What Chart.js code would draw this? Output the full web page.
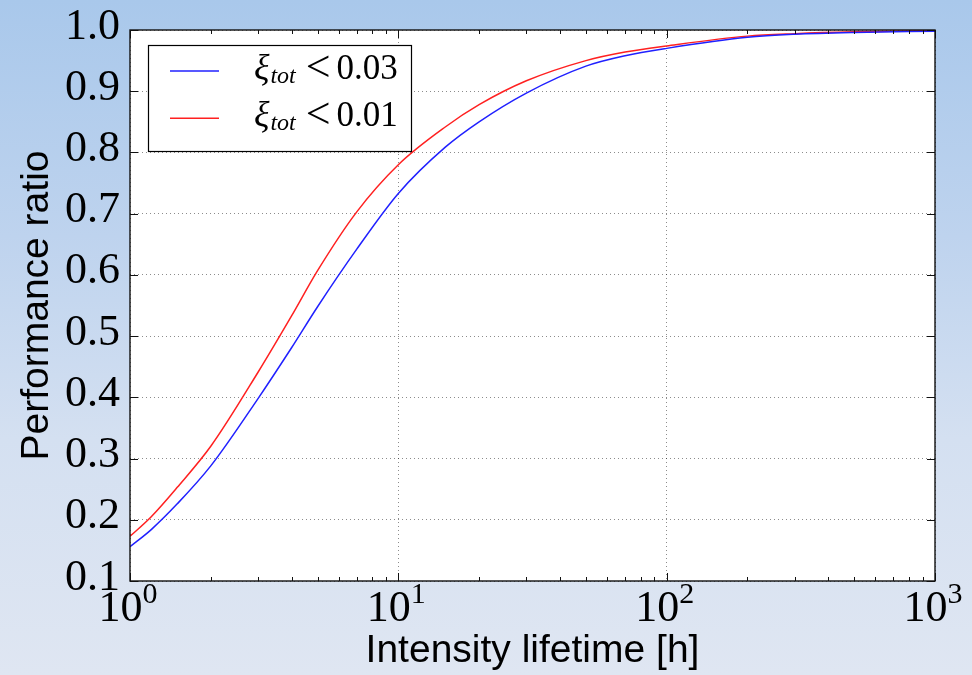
<!DOCTYPE html>
<html>
<head>
<meta charset="utf-8">
<script src="https://cdn.jsdelivr.net/npm/chart.js@4.4.0/dist/chart.umd.min.js"></script>
<style>
    html, body { margin: 0; padding: 0; }
    body {
        width: 972px;
        height: 675px;
        overflow: hidden;
        background: linear-gradient(to bottom, #a9c8eb 0%, #bed3ee 35%, #d4e0f1 65%, #dfe6f2 100%);
    }
    canvas { display: block; }
</style>
</head>
<body>
<canvas id="performance_chart" width="972" height="675"></canvas>
<script>
// intensity lifetime [h]
const lifetimes = [1, 1.2, 1.5, 2, 3, 4, 5, 7, 10, 15, 20, 30, 50, 70, 100, 200, 300, 500, 1000]
// performance ratio for each tune-shift limit
const ratio_xi_003 = [0.156, 0.184, 0.226, 0.288, 0.398, 0.481, 0.548, 0.642, 0.733, 0.809, 0.850, 0.897, 0.941, 0.958, 0.970, 0.988, 0.993, 0.996, 0.998]
const ratio_xi_001 = [0.173, 0.205, 0.253, 0.320, 0.441, 0.533, 0.607, 0.703, 0.780, 0.842, 0.878, 0.917, 0.950, 0.964, 0.974, 0.990, 0.994, 0.997, 0.999]
const series_labels = ['ξ_tot < 0.03', 'ξ_tot < 0.01']
const series_colors = ['#2020ff', '#ff2020']
const decades = [1, 10, 100, 1000]

const SERIF = "'Liberation Serif', 'DejaVu Serif', serif"
const SANS = "'Liberation Sans', Arial, sans-serif"
const GRID_COLOR = 'rgba(0, 0, 0, 0.45)'

const isDecade = v => decades.some(d => Math.abs(v - d) < 1e-6 * d)

// white plotting area
const plotBackgroundPlugin = {
    id: 'plotBackground',
    beforeDraw(chart) {
        const { ctx, chartArea: a } = chart
        ctx.save()
        ctx.fillStyle = '#fff'
        ctx.fillRect(a.left, a.top, a.right - a.left, a.bottom - a.top)
        ctx.restore()
    }
}

// frame, inward tick marks and 10^n tick labels
const axesFramePlugin = {
    id: 'axesFrame',
    afterDatasetsDraw(chart) {
        const ctx = chart.ctx
        const area = chart.chartArea
        const xs = chart.scales.x
        const ys = chart.scales.y
        ctx.save()
        ctx.strokeStyle = '#111'
        ctx.lineWidth = 1

        // x ticks, major on decades and minor in between
        ctx.beginPath()
        decades.forEach((d, i) => {
            const mults = i < decades.length - 1 ? [1, 2, 3, 4, 5, 6, 7, 8, 9] : [1]
            mults.forEach(m => {
                const px = Math.round(xs.getPixelForValue(d * m)) + 0.5
                const len = m === 1 ? 8 : 4
                ctx.moveTo(px, area.bottom)
                ctx.lineTo(px, area.bottom - len)
                ctx.moveTo(px, area.top)
                ctx.lineTo(px, area.top + len)
            })
        })
        // y ticks on both sides
        ys.ticks.forEach(t => {
            const py = Math.round(ys.getPixelForValue(t.value)) + 0.5
            ctx.moveTo(area.left, py)
            ctx.lineTo(area.left + 8, py)
            ctx.moveTo(area.right, py)
            ctx.lineTo(area.right - 8, py)
        })
        ctx.stroke()

        ctx.lineWidth = 1.4
        ctx.strokeRect(area.left, area.top, area.right - area.left, area.bottom - area.top)

        // 10^n labels
        ctx.fillStyle = '#000'
        ctx.textBaseline = 'alphabetic'
        ctx.textAlign = 'left'
        decades.forEach(d => {
            const px = xs.getPixelForValue(d)
            const exp = String(Math.round(Math.log10(d)))
            ctx.font = `44px ${SERIF}`
            const wBase = ctx.measureText('10').width
            ctx.font = `30px ${SERIF}`
            const wExp = ctx.measureText(exp).width
            const x0 = px - (wBase + wExp) / 2 - 2
            ctx.font = `44px ${SERIF}`
            ctx.fillText('10', x0, area.bottom + 40)
            ctx.font = `30px ${SERIF}`
            ctx.fillText(exp, x0 + wBase, area.bottom + 22)
        })
        ctx.restore()
    }
}

// legend box with subscripted labels
const mathLegendPlugin = {
    id: 'mathLegend',
    afterDraw(chart) {
        const ctx = chart.ctx
        const area = chart.chartArea
        const box = { x: area.left + 18, y: area.top + 15, w: 263, h: 106 }
        ctx.save()
        ctx.fillStyle = '#fff'
        ctx.fillRect(box.x, box.y, box.w, box.h)
        ctx.strokeStyle = '#000'
        ctx.lineWidth = 1.2
        ctx.strokeRect(box.x + 0.5, box.y + 0.5, box.w, box.h)

        chart.data.datasets.forEach((ds, i) => {
            const y = box.y + 26 + i * 47.3
            ctx.strokeStyle = ds.borderColor
            ctx.lineWidth = 1.5
            ctx.beginPath()
            ctx.moveTo(box.x + 22, y)
            ctx.lineTo(box.x + 71, y)
            ctx.stroke()

            const m = ds.label.match(/^(.)_(\w+)\s*(\S+)\s*(.*)$/)
            const base = y + 8
            let x = box.x + 106
            ctx.fillStyle = '#000'
            ctx.textBaseline = 'alphabetic'
            ctx.font = `italic 36px ${SERIF}`
            ctx.fillText(m[1], x, base)
            x += ctx.measureText(m[1]).width + 1
            ctx.font = `italic 24px ${SERIF}`
            ctx.fillText(m[2], x, base + 4)
            x += ctx.measureText(m[2]).width + 10
            ctx.font = `44px ${SERIF}`
            ctx.fillText(m[3], x, base + 2)
            x += ctx.measureText(m[3]).width + 6
            ctx.font = `35px ${SERIF}`
            ctx.fillText(m[4], x, base)
        })
        ctx.restore()
    }
}

const datasets = [ratio_xi_003, ratio_xi_001].map((values, i) => ({
    label: series_labels[i],
    data: lifetimes.map((t, k) => ({ x: t, y: values[k] })),
    borderColor: series_colors[i],
    backgroundColor: series_colors[i],
    borderWidth: 1.5,
    pointRadius: 0,
    cubicInterpolationMode: 'monotone',
    fill: false
}))

const ctx_chart = document.getElementById('performance_chart').getContext('2d')
new Chart(ctx_chart, {
    type: 'line',
    data: { datasets },
    plugins: [plotBackgroundPlugin, axesFramePlugin, mathLegendPlugin],
    options: {
        responsive: false,
        animation: false,
        layout: { padding: { top: 30, right: 37, left: 0, bottom: 0 } },
        plugins: {
            legend: { display: false },
            tooltip: { enabled: false }
        },
        scales: {
            x: {
                type: 'logarithmic',
                min: 1,
                max: 1000,
                grid: {
                    color: c => (c.tick && isDecade(c.tick.value)) ? GRID_COLOR : 'rgba(0,0,0,0)',
                    drawTicks: false,
                    lineWidth: 1
                },
                border: { display: false, dash: [1, 3] },
                ticks: { display: false },
                title: {
                    display: true,
                    text: 'Intensity lifetime [h]',
                    color: '#000',
                    font: { family: SANS, size: 39 },
                    padding: 0
                },
                afterFit(scale) { scale.height = 94 }
            },
            y: {
                min: 0.1,
                max: 1.0,
                grid: { color: GRID_COLOR, drawTicks: false, lineWidth: 1 },
                border: { display: false, dash: [1, 3] },
                ticks: {
                    stepSize: 0.1,
                    callback: v => v.toFixed(1),
                    color: '#000',
                    font: { family: SERIF, size: 44, lineHeight: 0.8 },
                    padding: 10,
                    labelOffset: -3
                },
                title: {
                    display: true,
                    text: 'Performance ratio',
                    color: '#000',
                    font: { family: SANS, size: 39 },
                    padding: 14
                },
                afterFit(scale) { scale.width = 130 }
            }
        }
    }
})
</script>
</body>
</html>
